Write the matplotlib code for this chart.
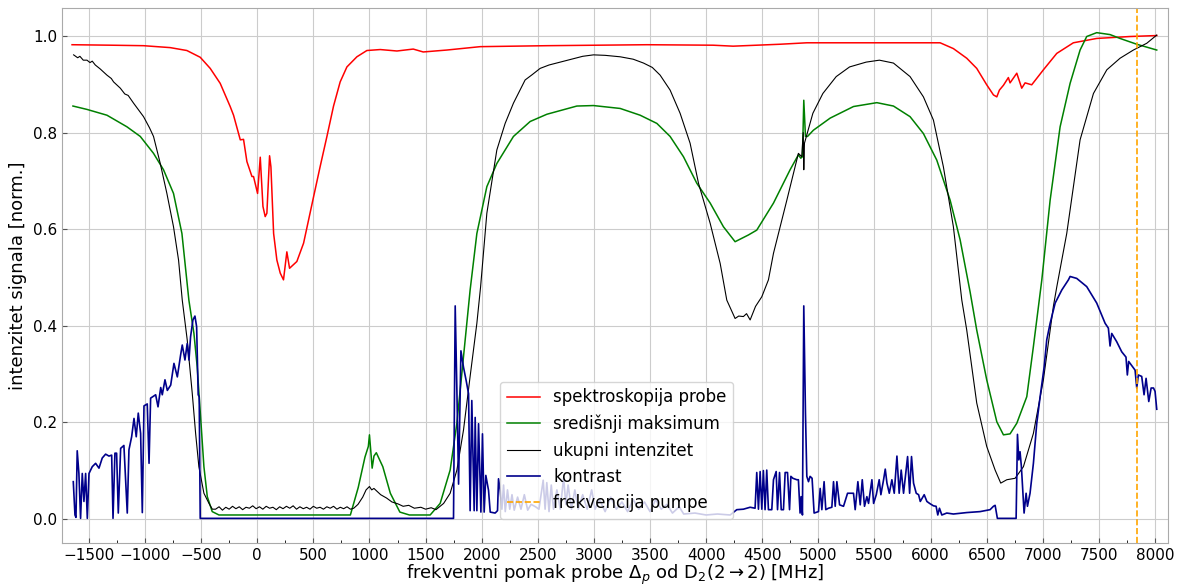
import matplotlib
matplotlib.use('Agg')
import matplotlib.pyplot as plt
from matplotlib.ticker import MultipleLocator

# spektroskopija probe
red_x = [-1650, -1300, -1013, -775, -627, -508, -419, -330, -241, -211, -151, -122, -92, -47, -33,
         3, 27, 51, 71, 86, 110, 122, 146, 175, 205, 234, 264, 288, 353, 413, 502, 561, 621, 680,
         739, 799, 888, 977, 1096, 1245, 1390, 1479, 1690, 1987, 2581, 3472, 4062, 4240, 4659, 4897,
         5550, 6085, 6203, 6322, 6411, 6500, 6560, 6590, 6613, 6649, 6693, 6708, 6768, 6812, 6842,
         6901, 7005, 7124, 7272, 7480, 7777, 8015]
red_y = [.982, .981, .980, .976, .970, .956, .933, .902, .854, .836, .785, .786, .740, .709, .709,
         .674, .749, .647, .626, .633, .752, .729, .591, .536, .509, .495, .553, .519, .533, .571,
         .667, .730, .792, .855, .905, .936, .957, .970, .972, .969, .973, .967, .971, .978, .980,
         .982, .981, .979, .983, .986, .986, .986, .974, .954, .933, .899, .878, .874, .888, .898,
         .914, .903, .923, .892, .903, .899, .930, .964, .986, .995, .999, 1.001]

# središnji maksimum
green_x = [-1642, -1517, -1339, -1161, -1042, -924, -835, -746, -671, -609, -564, -535, -505, -475,
           -445, -401, -341, 830, 900, 960, 990, 1000, 1012, 1024, 1040, 1061, 1119, 1186, 1271,
           1356, 1541, 1630, 1719, 1779, 1838, 1897, 1957, 2046, 2135, 2283, 2432, 2581, 2848, 2996,
           3234, 3412, 3561, 3679, 3798, 3917, 4036, 4154, 4258, 4377, 4451, 4600, 4748, 4822, 4843,
           4858, 4870, 4885, 4903, 4956, 5105, 5313, 5521, 5669, 5817, 5936, 6055, 6174, 6263, 6352,
           6411, 6500, 6590, 6649, 6708, 6768, 6857, 6916, 6991, 7065, 7154, 7243, 7332, 7391, 7480,
           7599, 7688, 7837, 8015]
green_y = [.855, .848, .836, .812, .792, .757, .723, .674, .591, .453, .384, .315, .212, .108, .046,
           .015, .008, .008, .065, .128, .150, .174, .140, .105, .130, .137, .108, .053, .014, .008,
           .008, .032, .101, .198, .336, .474, .591, .688, .736, .792, .823, .838, .855, .856, .850,
           .836, .819, .792, .750, .695, .654, .605, .574, .588, .598, .654, .723, .754, .747, .750,
           .867, .792, .792, .805, .830, .854, .862, .855, .833, .798, .743, .660, .578, .470, .391,
           .288, .201, .174, .176, .198, .253, .357, .495, .660, .812, .902, .971, .999, 1.007, 1.003,
           .995, .983, .971]

# ukupni intenzitet
black_x = [-1636, -1600, -1580, -1550, -1517, -1490, -1470, -1443, -1400, -1339, -1300, -1280, -1220,
           -1180, -1150, -1102, -1013, -960, -924, -864, -805, -746, -701, -668, -624, -579, -549,
           -520, -475, -430, -400, -371, -340, -310, -280, -250, -220, -190, -160, -130, -100, -70,
           -40, -10, 20, 50, 80, 110, 140, 170, 200, 230, 260, 290, 320, 350, 380, 410, 440, 470, 500,
           530, 560, 590, 620, 650, 680, 710, 740, 770, 800, 830, 860, 898, 940, 970, 1000, 1020, 1040,
           1068, 1100, 1153, 1200, 1254, 1300, 1350, 1400, 1458, 1500, 1550, 1593, 1630, 1661, 1719,
           1779, 1838, 1897, 1957, 1990, 2046, 2135, 2209, 2283, 2387, 2450, 2521, 2600, 2699, 2800,
           2900, 2996, 3100, 3234, 3350, 3442, 3520, 3590, 3679, 3768, 3857, 3932, 4036, 4125, 4184,
           4258, 4290, 4332, 4360, 4392, 4440, 4496, 4555, 4600, 4719, 4822, 4852, 4865, 4870, 4876,
           4951, 5040, 5159, 5278, 5426, 5544, 5669, 5817, 5936, 6025, 6114, 6203, 6278, 6322, 6411,
           6500, 6575, 6625, 6679, 6753, 6827, 6916, 7005, 7094, 7124, 7213, 7332, 7451, 7570, 7688,
           7807, 7926, 8015]
black_y = [.961, .955, .958, .950, .950, .945, .948, .940, .932, .919, .912, .905, .892, .880, .877,
           .861, .833, .810, .792, .736, .674, .605, .536, .453, .371, .260, .177, .108, .053, .032,
           .020, .020, .025, .018, .024, .020, .026, .021, .025, .019, .024, .022, .027, .021, .025,
           .020, .026, .022, .024, .019, .025, .021, .026, .022, .027, .020, .025, .021, .024, .020,
           .026, .022, .024, .020, .025, .022, .026, .020, .024, .021, .025, .020, .022, .030, .045,
           .060, .067, .060, .063, .057, .050, .043, .035, .031, .026, .028, .022, .024, .020, .023,
           .019, .026, .032, .053, .101, .184, .295, .405, .480, .633, .764, .819, .861, .909, .920,
           .933, .940, .946, .952, .958, .961, .960, .957, .952, .944, .935, .919, .888, .840, .778,
           .695, .612, .529, .453, .415, .420, .419, .425, .412, .440, .460, .495, .550, .660, .757,
           .750, .800, .723, .778, .840, .881, .916, .936, .946, .950, .944, .916, .874, .826, .729,
           .605, .453, .391, .240, .150, .101, .074, .081, .084, .108, .177, .288, .440, .480, .591,
           .785, .881, .930, .954, .971, .985, 1.002]

# kontrast
blue_x = [-1639, -1624, -1615, -1604, -1589, -1574, -1559, -1544, -1529, -1514, -1499, -1470, -1440,
          -1410, -1381, -1351, -1321, -1297, -1285, -1268, -1253, -1238, -1217, -1188, -1158, -1143,
          -1119, -1098, -1078, -1060, -1039, -1024, -1009, -980, -964, -950, -905, -884, -860, -846,
          -822, -801, -771, -742, -712, -683, -668, -644, -624, -608, -594, -573, -555, -540, -526,
          -517, -508, 1749, 1764, 1779, 1794, 1815, 1838, 1862, 1883, 1897, 1912, 1933, 1942, 1957,
          1972, 1993, 2007, 2022, 2037, 2061, 2076, 2120, 2141, 2150, 2165, 2180, 2195, 2210, 2230,
          2250, 2270, 2290, 2320, 2350, 2380, 2410, 2440, 2480, 2510, 2548, 2565, 2580, 2600, 2620,
          2640, 2670, 2700, 2730, 2750, 2770, 2800, 2830, 2860, 2900, 2940, 2980, 3010, 3050, 3100,
          3150, 3200, 3250, 3300, 3350, 3400, 3450, 3500, 3550, 3600, 3650, 3700, 3760, 3800, 3900,
          4000, 4100, 4214, 4273, 4332, 4392, 4436, 4451, 4466, 4481, 4496, 4510, 4525, 4540, 4555,
          4585, 4600, 4624, 4636, 4654, 4669, 4689, 4704, 4725, 4743, 4755, 4773, 4808, 4822, 4837,
          4846, 4858, 4870, 4885, 4897, 4912, 4926, 4944, 4962, 5001, 5016, 5031, 5051, 5066, 5090,
          5120, 5135, 5150, 5165, 5189, 5224, 5260, 5313, 5328, 5352, 5373, 5391, 5411, 5432, 5447,
          5477, 5492, 5516, 5542, 5557, 5581, 5596, 5611, 5632, 5655, 5676, 5700, 5720, 5738, 5759,
          5795, 5813, 5830, 5848, 5872, 5893, 5908, 5943, 5967, 5991, 6025, 6049, 6064, 6079, 6100,
          6144, 6203, 6322, 6441, 6530, 6560, 6575, 6595, 6762, 6774, 6786, 6797, 6809, 6821, 6833,
          6851, 6863, 6886, 6916, 6946, 6976, 7012, 7035, 7065, 7110, 7169, 7228, 7243, 7302, 7391,
          7480, 7555, 7584, 7599, 7614, 7658, 7703, 7741, 7753, 7765, 7822, 7837, 7851, 7881, 7902,
          7920, 7944, 7965, 7986, 8000, 8015]
blue_y = [.077, .008, .003, .141, .094, .001, .094, .036, .094, .001, .094, .108, .115, .105, .126,
          .134, .130, .132, .001, .136, .136, .012, .146, .152, .012, .143, .170, .208, .170, .219,
          .177, .013, .234, .238, .115, .250, .257, .232, .272, .257, .288, .266, .277, .322, .294,
          .339, .360, .329, .363, .329, .377, .412, .420, .398, .257, .253, .001, .001, .441, .266,
          .072, .348, .314, .286, .259, .017, .245, .017, .210, .017, .197, .014, .176, .014, .090,
          .059, .014, .012, .017, .083, .059, .020, .070, .015, .060, .020, .050, .018, .045, .020,
          .050, .018, .030, .025, .020, .080, .020, .075, .015, .070, .020, .060, .020, .085, .030,
          .070, .020, .060, .020, .050, .020, .060, .020, .040, .015, .045, .020, .035, .015, .040,
          .020, .035, .015, .040, .020, .030, .012, .025, .010, .012, .008, .010, .008, .019, .020,
          .024, .022, .096, .020, .098, .020, .100, .019, .101, .019, .019, .081, .098, .019, .096,
          .019, .019, .096, .096, .019, .088, .084, .081, .081, .012, .046, .008, .441, .219, .088,
          .077, .088, .084, .012, .015, .063, .019, .077, .019, .022, .024, .077, .026, .077, .029,
          .026, .053, .053, .019, .077, .029, .081, .026, .046, .032, .081, .032, .050, .081, .050,
          .081, .103, .074, .053, .081, .053, .130, .053, .101, .053, .129, .053, .129, .074, .053,
          .050, .036, .050, .036, .032, .027, .026, .008, .022, .008, .012, .010, .013, .015, .019,
          .026, .028, .001, .001, .175, .122, .139, .108, .060, .012, .053, .026, .053, .115, .198,
          .253, .315, .371, .405, .447, .474, .495, .502, .498, .481, .447, .405, .395, .358, .384,
          .367, .346, .335, .298, .326, .308, .271, .298, .295, .257, .291, .243, .271, .271, .264,
          .227]

pump_freq = 7837

plt.rcParams['axes.edgecolor'] = '#aaaaaa'
plt.rcParams['xtick.direction'] = 'in'
plt.rcParams['ytick.direction'] = 'in'

fig = plt.figure(figsize=(11.8, 5.86), dpi=100)
ax = fig.add_axes([0.0525, 0.0734, 0.9373, 0.9129])

ax.plot(red_x, red_y, color='red', lw=1.1, label='spektroskopija probe')
ax.plot(green_x, green_y, color='green', lw=1.1, label='središnji maksimum')
ax.plot(black_x, black_y, color='black', lw=0.8, label='ukupni intenzitet')
ax.plot(blue_x, blue_y, color='darkblue', lw=1.2, label='kontrast')
ax.axvline(pump_freq, color='orange', ls='--', lw=1.2, label='frekvencija pumpe')

ax.set_xlim(-1740, 8115)
ax.set_ylim(-0.05, 1.058)
ax.xaxis.set_major_locator(MultipleLocator(500))
ax.xaxis.set_minor_locator(MultipleLocator(250))
ax.yaxis.set_major_locator(MultipleLocator(0.2))
ax.grid(True, color='#cccccc', lw=0.8)
ax.set_axisbelow(True)
ax.tick_params(labelsize=11, color='#555555')

ax.set_xlabel(r'frekventni pomak probe $\Delta_p$ od D$_2(2\rightarrow2)$ [MHz]', fontsize=13,
              labelpad=0)
ax.set_ylabel('intenzitet signala [norm.]', fontsize=13)

ax.legend(loc='lower left', bbox_to_anchor=(0.396, 0.045), borderaxespad=0, fontsize=12)

plt.savefig('out.png')
